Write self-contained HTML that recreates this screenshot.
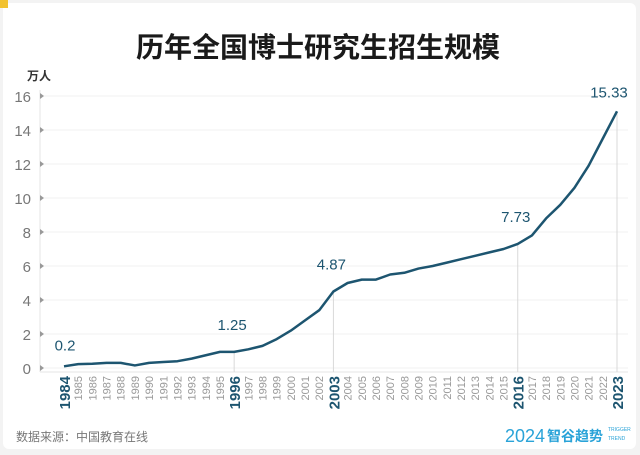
<!DOCTYPE html>
<html><head><meta charset="utf-8"><style>
body{margin:0;background:#f3f3f3;}
#card{position:absolute;left:3px;top:3px;width:633px;height:446px;background:#fff;border-radius:6px;}
svg{position:absolute;left:0;top:0;}
</style></head><body>
<div id="card"></div>
<svg id="chart" width="640" height="455" font-family="'Liberation Sans','Noto Sans CJK SC',sans-serif">
<rect x="0" y="0" width="8" height="8" fill="#f2c230"/>
<text x="318" y="57" text-anchor="middle" font-size="28" font-weight="bold" fill="#1a1a1a">历年全国博士研究生招生规模</text>
<text x="27" y="80" font-size="12" font-weight="bold" fill="#333">万人</text>
<g id="grid"></g><g id="marks"></g><g id="xlabels"></g>
<text x="16" y="441" font-size="12" fill="#777">数据来源：中国教育在线</text>
<text x="505" y="442" font-size="18" fill="#2aa3d8">2024</text>
<text x="547" y="441" font-size="14" font-weight="bold" fill="#2aa3d8">智谷趋势</text>
<text x="608" y="431" font-size="5" fill="#2aa3d8">TRIGGER</text>
<text x="608" y="440" font-size="5" fill="#2aa3d8">TREND</text>
</svg>
<script>
const years=[];for(let y=1984;y<=2023;y++)years.push(y);
const values=[0.1,0.23,0.25,0.3,0.3,0.15,0.3,0.35,0.4,0.55,0.75,0.95,0.95,1.1,1.3,1.7,2.2,2.8,3.4,4.5,5.0,5.2,5.2,5.5,5.6,5.85,6.0,6.2,6.4,6.6,6.8,7.0,7.3,7.8,8.8,9.6,10.6,11.9,13.5,15.1];
const yTicks=[0,2,4,6,8,10,12,14,16];
const highlightYears=[1984,1996,2003,2016,2023];
const highlightLabels=["0.2","1.25","4.87","7.73","15.33"];
const NS="http://www.w3.org/2000/svg";
const x0=64,x1=617,yb=368,yt=96;
const X=y=>x0+(y-1984)*(x1-x0)/(2023-1984);
const Y=v=>yb-v*(yb-yt)/16;
function mk(p,t,a){const e=document.createElementNS(NS,t);for(const k in a)e.setAttribute(k,a[k]);p.appendChild(e);return e;}
const grid=document.getElementById('grid'),marks=document.getElementById('marks'),xl=document.getElementById('xlabels');
const axis=mk(grid,'line',{x1:40,x2:40,y1:90,y2:372,stroke:'#e6e6e6'});


const xaxis=mk(grid,'line',{x1:40,x2:628,y1:372,y2:372,stroke:'#e6e6e6'});


yTicks.forEach(t=>{
  const g=mk(grid,'line',{x1:42,x2:628,y1:Y(t),y2:Y(t),stroke:'#f2f2f2'});
  
  
  const tr=mk(grid,'path',{d:`M40 ${Y(t)-3}L44 ${Y(t)}L40 ${Y(t)+3}Z`,fill:'#999'});
  
  
  const tx=mk(grid,'text',{x:31,y:Y(t)+6,'text-anchor':'end','font-size':15,fill:'#777'});
  tx.textContent=t;
  
  
});
highlightYears.forEach((yr,i)=>{
  const v=values[years.indexOf(yr)];
  if(i>0){const l=mk(marks,'line',{x1:X(yr),x2:X(yr),y1:Y(v),y2:372,stroke:'#d8d8d8'});
  
  }
  const t=mk(marks,'text',{x:X(yr)+(i==0?1:i==4?-8:-2),y:Y(v)-(i==0?16:i==4?14:22),'text-anchor':'middle','font-size':15,fill:'#1d5570'});
  t.textContent=highlightLabels[i];
  
  
});
const line=mk(marks,'polyline',{points:years.map((y,i)=>X(y)+','+Y(values[i])).join(' '),fill:'none',stroke:'#1d5570','stroke-width':2.5,'stroke-linejoin':'round'});


years.forEach(y=>{
  const h=highlightYears.includes(y);
  const t=mk(xl,'text',{transform:`translate(${X(y)+(h?6:4)},376) rotate(-90)`,'text-anchor':'end','font-size':h?15:11,'font-weight':h?'bold':'normal',fill:h?'#1d5570':'#999'});
  t.textContent=y;
  
  
});
</script>
</body></html>
